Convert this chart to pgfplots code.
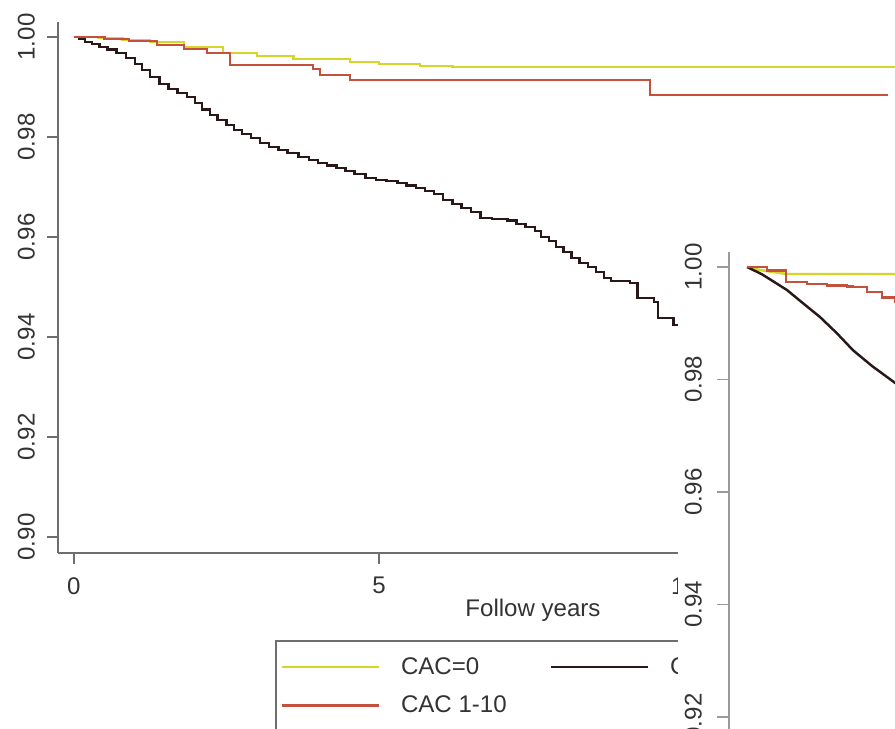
\documentclass[border=0pt]{standalone}
\usepackage{pgfplots}
\pgfplotsset{compat=1.18}
\usepackage{fontspec}
\setmainfont{Liberation Sans}
\definecolor{cyel}{HTML}{D6D62A}
\definecolor{cred}{HTML}{C4503E}
\definecolor{cblk}{HTML}{2A1818}
\definecolor{caxis}{HTML}{6E6E6E}
\definecolor{caxisb}{HTML}{9A9A9A}
\definecolor{ctext}{HTML}{333333}
\newcommand{\chfont}{\fontsize{13.7}{16}\selectfont}
\begin{document}
\begin{tikzpicture}
\path[use as bounding box] (0,0) rectangle (17.9cm,14.58cm);
\clip (0,0) rectangle (17.9cm,14.58cm);
\begin{axis}[
  at={(1.16cm,3.52cm)}, anchor=south west,
  scale only axis, width=19cm, height=10.62cm,
  xmin=-0.26, xmax=15.3, ymin=0.8968, ymax=1.003,
  axis x line=bottom, axis y line=left,
  axis line style={-, caxis, line width=1.1pt},
  tick align=outside, major tick length=0.22cm,
  tick style={caxis, line width=0.8pt},
  xtick={0,5,10,15}, ytick={0.90,0.92,0.94,0.96,0.98,1.00},
  /pgf/number format/assume math mode=true,
  tick label style={font=\chfont, text=ctext},
  yticklabel style={/pgf/number format/.cd, fixed, fixed zerofill, precision=2, /tikz/.cd, rotate=90, anchor=south},
  yticklabel shift=0.12cm, xticklabel shift=0.14cm,
  xlabel={Follow years},
  xlabel style={at={(axis description cs:0.5,-0.1073)}, anchor=center, font=\chfont, text=ctext},
  legend style={at={(axis description cs:0.2284,-0.1638)}, anchor=north west, draw=caxis, line width=0.9pt,
    font=\chfont, text=ctext, legend columns=2, inner ysep=7.5pt, row sep=0.24cm,
    /tikz/every even column/.append style={column sep=0.8cm}},
  legend cell align=left,
  legend image code/.code={\draw[#1] (0cm,0cm) -- (1.94cm,0cm); \path (2.28cm,0cm);},
]
\addplot[cyel, line width=1.4pt, const plot] coordinates {
(0,1.0000) (0.4,0.9998) (0.8,0.9994) (1.25,0.9990) (1.8,0.9980) (2.44,0.9968) (3.0,0.9962) (3.6,0.9956) (4.52,0.9950) (5.0,0.9946) (5.67,0.9942) (6.2,0.9940) (15.0,0.9940)
};
\addlegendentry{CAC=0}
\addplot[cblk, line width=1.4pt, const plot] coordinates {
(0,1.0000) (0.08,0.9996) (0.18,0.9990) (0.30,0.9986) (0.42,0.9980) (0.55,0.9975) (0.70,0.9968) (0.85,0.9958)
(1.00,0.9946) (1.12,0.9934) (1.25,0.9920) (1.40,0.9906) (1.55,0.9896) (1.70,0.9888) (1.85,0.9880) (1.98,0.9868)
(2.10,0.9855) (2.23,0.9844) (2.35,0.9834) (2.50,0.9824) (2.62,0.9814) (2.75,0.9806) (2.90,0.9798) (3.05,0.9788)
(3.20,0.9780) (3.35,0.9774) (3.50,0.9768) (3.68,0.9760) (3.85,0.9754) (4.00,0.9748) (4.15,0.9743) (4.30,0.9738)
(4.45,0.9732) (4.60,0.9726) (4.78,0.9718) (4.95,0.9714) (5.12,0.9712) (5.30,0.9708) (5.45,0.9703) (5.60,0.9698)
(5.75,0.9692) (5.90,0.9686) (6.05,0.9674) (6.20,0.9666) (6.35,0.9658) (6.50,0.9650) (6.66,0.9638) (6.85,0.9636)
(7.10,0.9633) (7.25,0.9626) (7.40,0.9620) (7.55,0.9612) (7.65,0.9600) (7.78,0.9592) (7.90,0.9580) (8.02,0.9570)
(8.15,0.9558) (8.28,0.9548) (8.42,0.9540) (8.55,0.9530) (8.68,0.9518) (8.80,0.9512) (9.11,0.9508) (9.23,0.9478)
(9.50,0.9470) (9.57,0.9438) (9.82,0.9424) (10.10,0.9415) (10.40,0.9395) (10.80,0.9370) (11.20,0.9350) (11.60,0.9330)
};
\addlegendentry{CAC>10}
\addplot[cred, line width=1.4pt, const plot] coordinates {
(0,1.0000) (0.5,0.9996) (0.9,0.9992) (1.36,0.9984) (1.8,0.9976) (2.18,0.9968) (2.56,0.9944) (3.92,0.9936) (4.03,0.9924) (4.52,0.9914) (9.44,0.9884) (13.33,0.9884)
};
\addlegendentry{CAC 1-10}
\end{axis}
\fill[white] (13.56cm,9.78cm) rectangle (19cm,-1cm);
\begin{axis}[
  at={(14.58cm,-0.885cm)}, anchor=south west,
  scale only axis, width=5.36cm, height=10.425cm,
  xmin=-0.36, xmax=5, ymin=0.91, ymax=1.002667,
  axis x line=bottom, axis y line=left,
  axis line style={-, caxisb, line width=1.0pt},
  tick align=outside, major tick length=0.24cm,
  tick style={caxisb, line width=0.8pt},
  xtick={0,5}, ytick={0.92,0.94,0.96,0.98,1.00},
  /pgf/number format/assume math mode=true,
  tick label style={font=\chfont, text=ctext},
  yticklabel style={/pgf/number format/.cd, fixed, fixed zerofill, precision=2, /tikz/.cd, rotate=90, anchor=south},
  yticklabel shift=0.18cm,
]
\addplot[cyel, line width=1.4pt] coordinates {
(0,1.0000) (0.3,0.9994) (0.8,0.99875) (5,0.99875)
};
\addplot[cblk, line width=1.4pt] coordinates {
(0,1.0000) (0.3,0.9987) (0.8,0.9959) (1.1,0.9937) (1.46,0.9911) (1.8,0.9882) (2.12,0.9852) (2.5,0.9824) (2.96,0.9794) (3.5,0.9760) (4.5,0.9700)
};
\addplot[cred, line width=1.4pt, const plot] coordinates {
(0,1.0000) (0.4,0.9994) (0.78,0.9973) (1.2,0.9970) (1.6,0.9967) (2.0,0.9965) (2.12,0.9964) (2.4,0.9956) (2.7,0.9946) (2.96,0.9938) (3.5,0.9922) (4.5,0.9890)
};
\end{axis}
\end{tikzpicture}
\end{document}
